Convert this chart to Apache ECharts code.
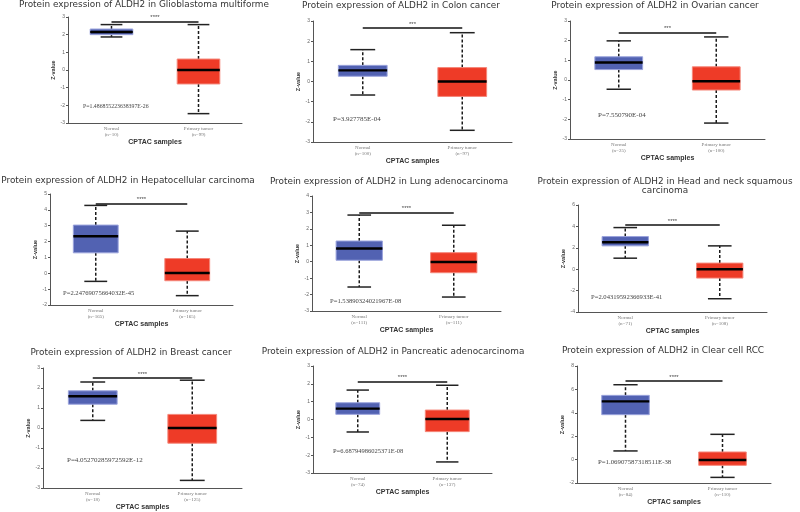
<!DOCTYPE html>
<html>
<head>
<meta charset="utf-8">
<script src="https://cdn.jsdelivr.net/npm/echarts@6/dist/echarts.min.js"></script>
<style>html,body{margin:0;padding:0;background:#fff;}#c{width:800px;height:512px;}</style>
</head>
<body>
<div id="c"></div>
<script>
// ---- data ----
const panelTitles = [
  'Protein expression of ALDH2 in Glioblastoma multiforme',
  'Protein expression of ALDH2 in Colon cancer',
  'Protein expression of ALDH2 in Ovarian cancer',
  'Protein expression of ALDH2 in Hepatocellular carcinoma',
  'Protein expression of ALDH2 in Lung adenocarcinoma',
  'Protein expression of ALDH2 in Head and neck squamous\ncarcinoma',
  'Protein expression of ALDH2 in Breast cancer',
  'Protein expression of ALDH2 in Pancreatic adenocarcinoma',
  'Protein expression of ALDH2 in Clear cell RCC'
];
const categories = ['Normal', 'Primary tumor'];
const normalN = [10, 100, 25, 165, 111, 71, 18, 74, 84];
const tumorN = [99, 97, 100, 165, 111, 108, 125, 137, 110];
// [min, Q1, median, Q3, max]
const normalBox = [
  [1.87, 2.00, 2.15, 2.32, 2.57],
  [-0.67, 0.26, 0.55, 0.80, 1.58],
  [-0.47, 0.53, 0.89, 1.18, 1.99],
  [-0.51, 1.29, 2.34, 3.04, 4.28],
  [-1.54, 0.09, 0.80, 1.26, 2.84],
  [1.03, 2.18, 2.52, 3.05, 3.89],
  [0.38, 1.19, 1.59, 1.86, 2.30],
  [-0.70, 0.29, 0.61, 0.94, 1.65],
  [0.74, 3.84, 4.98, 5.49, 6.40]
];
const tumorBox = [
  [-2.47, -0.79, 0.00, 0.62, 2.57],
  [-2.42, -0.74, 0.00, 0.69, 2.42],
  [-2.19, -0.51, -0.06, 0.67, 2.19],
  [-1.41, -0.47, 0.02, 0.93, 2.66],
  [-2.15, -0.67, -0.02, 0.55, 2.22],
  [-2.76, -0.83, 0.00, 0.57, 2.18],
  [-2.62, -0.76, 0.00, 0.68, 2.39],
  [-2.38, -0.68, 0.03, 0.53, 1.92],
  [-1.52, -0.49, -0.03, 0.65, 2.16]
];
const pValues = [
  'P=1.486855223638397E-26', 'P=3.927785E-04', 'P=7.550790E-04',
  'P=2.24769075664032E-45', 'P=1.53890324021967E-08', 'P=2.04319592366933E-41',
  'P=4.05270285972592E-12', 'P=6.68794986025371E-08', 'P=1.06907587318511E-38'
];
const stars = ['****', '***', '***', '****', '****', '****', '****', '****', '****'];
const sigLevels = [2.74, 2.65, 2.41, 4.39, 2.99, 4.14, 2.50, 2.12, 6.72];
const yMins = [-3, -3, -3, -2, -3, -4, -3, -3, -2];
const yMaxs = [3, 3, 3, 5, 4, 6, 3, 3, 8];
const yIntervals = [1, 1, 1, 1, 1, 2, 1, 1, 2];
const yAxisName = 'Z-value';
const xAxisName = 'CPTAC samples';

// ---- layout ----
const gridRects = [
  [68, 17, 174, 106], [313, 21, 199, 121], [570, 21, 195, 118],
  [50, 194, 183, 111], [312, 196, 189, 115], [578, 205, 189, 107],
  [43, 368, 199, 120], [313, 366, 179, 107], [577, 366, 194, 117]
];
const titlePos = [[144, 5], [401, 6], [655, 6], [128, 181], [389, 182], [665, 186], [131, 353], [393, 352], [663, 351]];
const pPos = [[83, 106], [333, 119], [598, 115], [63, 293], [330, 301], [591, 297], [67, 460], [333, 451], [598, 462]];
const pFont = [5.8, 7, 7, 6.6, 6.6, 6.6, 7, 6.5, 6.8];

const chart = echarts.init(document.getElementById('c'), null, {renderer: 'canvas'});

function renderBox(params, api) {
  const xi = api.value(0);
  const pts = [1, 2, 3, 4, 5].map(k => api.coord([xi, api.value(k)]));
  const cx = pts[0][0];
  const band = api.size([1, 0])[0];
  const bw = band * 0.49, cw = band * 0.25;
  const fill = xi === 0 ? '#5262b2' : '#ee3b27';
  const stroke = xi === 0 ? '#9aa3dc' : '#f5877a';
  const yMin = pts[0][1], yQ1 = pts[1][1], yMed = pts[2][1], yQ3 = pts[3][1], yMax = pts[4][1];
  const dash = {stroke: '#1a1a1a', lineWidth: 1.5, lineDash: [3, 2]};
  const cap = {stroke: '#222', lineWidth: 1.5};
  return {
    type: 'group',
    children: [
      {type: 'line', shape: {x1: cx, y1: yQ3, x2: cx, y2: yMax}, style: dash},
      {type: 'line', shape: {x1: cx, y1: yQ1, x2: cx, y2: yMin}, style: dash},
      {type: 'line', shape: {x1: cx - cw / 2, y1: yMax, x2: cx + cw / 2, y2: yMax}, style: cap},
      {type: 'line', shape: {x1: cx - cw / 2, y1: yMin, x2: cx + cw / 2, y2: yMin}, style: cap},
      {type: 'rect', shape: {x: cx - bw / 2, y: yQ3, width: bw, height: yQ1 - yQ3}, style: {fill: fill, stroke: stroke, lineWidth: 1}},
      {type: 'line', shape: {x1: cx - bw / 2, y1: yMed, x2: cx + bw / 2, y2: yMed}, style: {stroke: '#000', lineWidth: 2.4}}
    ]
  };
}

const grid = [], xAxis = [], yAxis = [], series = [], graphic = [];
for (let i = 0; i < 9; i++) {
  const r = gridRects[i];
  grid.push({left: r[0], top: r[1], width: r[2], height: r[3], containLabel: false});
  const ns = [normalN[i], tumorN[i]];
  xAxis.push({
    type: 'category', gridIndex: i, data: categories,
    name: xAxisName, nameLocation: 'middle', nameGap: 14,
    nameTextStyle: {fontFamily: 'Liberation Sans', fontWeight: 'bold', fontSize: 7, color: '#333'},
    axisLine: {onZero: false, lineStyle: {color: '#555', width: 1}},
    axisTick: {length: 2, lineStyle: {color: '#555'}},
    axisLabel: {
      fontFamily: 'Liberation Serif', fontSize: 5, color: '#777', margin: 3, lineHeight: 6,
      formatter: (v, idx) => v + '\n(n=' + ns[idx] + ')'
    }
  });
  yAxis.push({
    type: 'value', gridIndex: i, min: yMins[i], max: yMaxs[i], interval: yIntervals[i],
    name: yAxisName, nameLocation: 'middle', nameGap: 12,
    nameTextStyle: {fontFamily: 'Liberation Sans', fontWeight: 'bold', fontSize: 5.5, color: '#333'},
    axisLine: {show: true, onZero: false, lineStyle: {color: '#555', width: 1}},
    axisTick: {show: true, length: 2, lineStyle: {color: '#555'}},
    axisLabel: {fontFamily: 'Liberation Sans', fontSize: 5, color: '#666', margin: 3},
    splitLine: {show: false}
  });
  series.push({
    type: 'custom', xAxisIndex: i, yAxisIndex: i,
    renderItem: renderBox,
    encode: {x: 0, y: [1, 2, 3, 4, 5]},
    data: [[0].concat(normalBox[i]), [1].concat(tumorBox[i])],
    silent: true,
    markLine: {
      silent: true, symbol: ['none', 'none'], animation: false,
      lineStyle: {color: '#111', width: 1.6, type: 'solid'},
      label: {show: true, position: 'middle', formatter: stars[i], fontSize: 6, color: '#444', distance: 1},
      data: [[{coord: [categories[0], sigLevels[i]]}, {coord: [categories[1], sigLevels[i]]}]]
    }
  });
  graphic.push({
    type: 'text', x: titlePos[i][0], y: titlePos[i][1],
    style: {text: panelTitles[i], font: '8.9px "DejaVu Sans"', fill: '#333', textAlign: 'center', textVerticalAlign: 'middle', lineHeight: 9}
  });
  graphic.push({
    type: 'text', x: pPos[i][0], y: pPos[i][1],
    style: {text: pValues[i], font: pFont[i] + 'px "Liberation Serif"', fill: '#444', textAlign: 'left', textVerticalAlign: 'middle'}
  });
}

chart.setOption({
  animation: false,
  backgroundColor: '#fff',
  grid: grid, xAxis: xAxis, yAxis: yAxis, series: series, graphic: graphic
});
</script>
</body>
</html>
